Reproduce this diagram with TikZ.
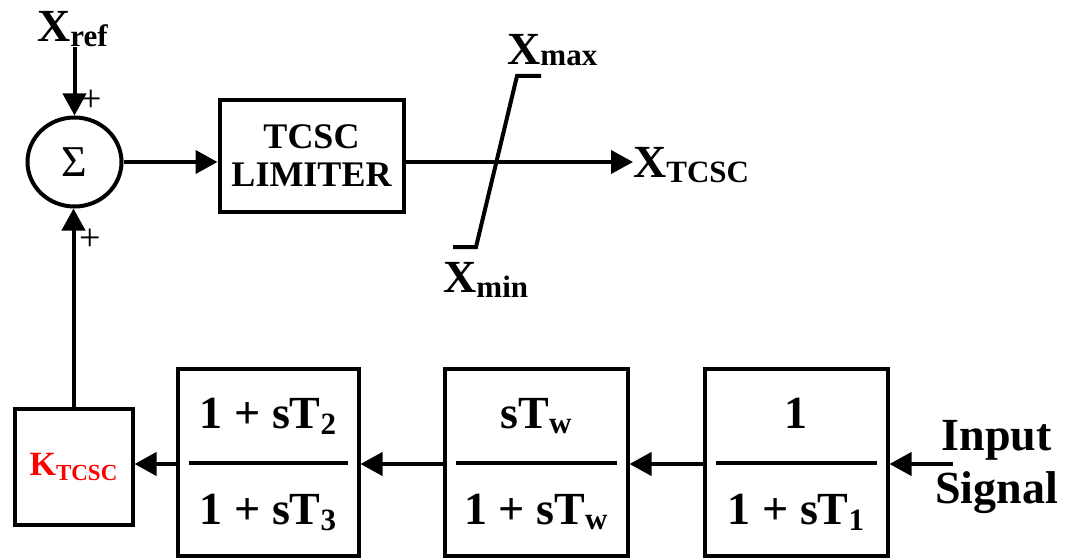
\documentclass[tikz,border=0pt]{standalone}
\usepackage{fontspec}
\setmainfont{Liberation Serif}
\usetikzlibrary{arrows.meta,shapes.geometric}
\newcommand{\lowsub}[3]{\raisebox{-#1pt}{\fontsize{#2}{#2}\selectfont #3}}
\newcommand{\bigf}{\fontsize{46}{50}\selectfont\bfseries}
\begin{document}
\begin{tikzpicture}[x=1pt,y=-1pt,
  lw/.style={line width=4pt},
  blk/.style={draw,line width=4pt,rectangle,inner sep=0pt},
  arr/.style={line width=4pt,-{Triangle[length=22pt,width=23pt]}},
  lbl/.style={inner sep=0pt,anchor=base west,font=\bigf},
  ftxt/.style={inner sep=0pt,anchor=base,font=\bigf},
  plus/.style={inner sep=0pt,font=\fontsize{38}{38}\selectfont}]
\useasboundingbox (0,0) rectangle (1067,559);
\coordinate (row) at (0,464);
% summing junction
\node[draw,ellipse,line width=4pt,minimum width=94pt,minimum height=89pt,inner sep=0pt,
  font=\fontsize{44}{44}\selectfont] (sum) at (74.5,162) {Σ};
\node[plus] (p1) at (91,101) {+};
\node[plus] (p2) at (90,240) {+};
% reference input
\node[lbl] (xref) at (37,42) {X\lowsub{5}{31}{ref}};
\draw[arr] (sum |- xref.south) -- (sum.north);
% limiter block
\node[blk,minimum width=184pt,minimum height=111pt,align=center,
  font=\fontsize{36}{38}\selectfont\bfseries] (lim) at (311.5,156) {TCSC\\LIMITER};
\draw[arr] (sum.east) -- (sum.east -| lim.west);
% output
\node[lbl] (xt) at (633,177) {X\lowsub{5}{31}{TCSC}};
\draw[arr] (sum -| lim.east) -- (xt.west |- sum);
% limiter symbol
\coordinate (lmax1) at (541,76);
\coordinate (lmax0) at (517,76);
\coordinate (lmin0) at (476,247);
\coordinate (lmin1) at (453,247);
\draw[lw] (lmax1) -- (lmax0) -- (lmin0) -- (lmin1);
\node[lbl] (xmax) at (507,65) {X\lowsub{1}{31}{max}};
\node[lbl] (xmin) at (443,292) {X\lowsub{5}{31}{min}};
% bottom row blocks
\node[blk,minimum width=118pt,minimum height=116pt,text=red,
  font=\fontsize{34}{34}\selectfont\bfseries] (kb) at (73.5,466.5) {K\lowsub{5}{23}{TCSC}};
\node[blk,minimum width=181pt,minimum height=187pt] (b2) at (268,462) {};
\node[blk,minimum width=183pt,minimum height=187pt] (b3) at (536,462) {};
\node[blk,minimum width=183pt,minimum height=187pt] (b4) at (796,462) {};
\foreach \b in {b2,b3,b4}{
  \draw[lw] ([xshift=13pt,yshift=-1pt]\b.west) -- ([xshift=-13pt,yshift=-1pt]\b.east);
}
\node[ftxt] (n2) at (268,428) {1 + sT\lowsub{6}{31}{2}};
\node[ftxt] (d2) at (268,524) {1 + sT\lowsub{6}{31}{3}};
\node[ftxt] (n3) at (536,428) {sT\lowsub{5}{31}{w}};
\node[ftxt] (d3) at (536,524) {1 + sT\lowsub{5}{31}{w}};
\node[ftxt] (n4) at (796,428) {1};
\node[ftxt] (d4) at (796,524) {1 + sT\lowsub{6}{31}{1}};
% input
\node[inner sep=0pt,align=center,font=\fontsize{46}{53}\selectfont\bfseries] (insig) at (996.5,467) {Input\\Signal};
\coordinate (inp) at (953,464);
\draw[arr] (inp) -- (inp -| b4.east);
\draw[arr] (b4.west |- row) -- (b3.east |- row);
\draw[arr] (b3.west |- row) -- (b2.east |- row);
\draw[arr] (b2.west |- row) -- (kb.east |- row);
\draw[arr] (kb.north) -- (kb.north |- sum.south);
\end{tikzpicture}
\end{document}
